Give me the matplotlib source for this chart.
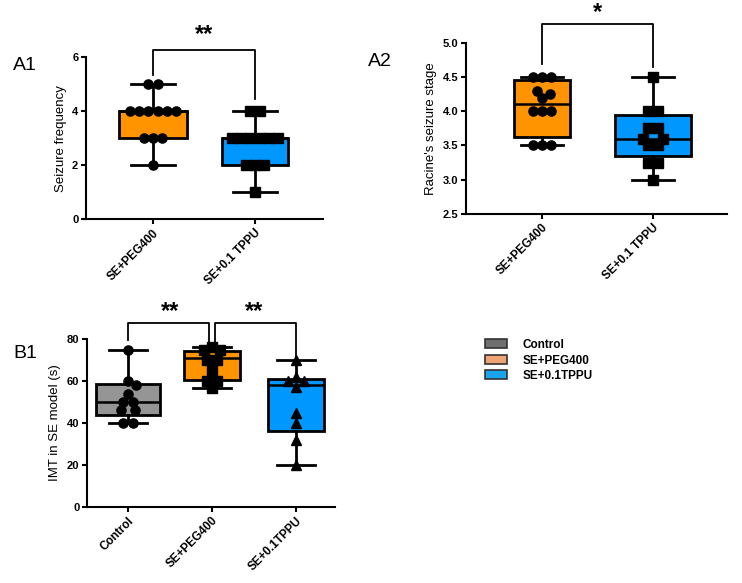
import matplotlib
matplotlib.use('Agg')
import matplotlib.pyplot as plt
from matplotlib.patches import Patch
import numpy as np

plt.rcParams['font.family'] = ['Liberation Sans', 'DejaVu Sans']

# ---- A1: seizure frequency ----
a1_groups = ['SE+PEG400', 'SE+0.1 TPPU']
a1_peg = [5, 5, 4, 4, 4, 4, 4, 4, 3, 3, 3, 2]
a1_tppu = [4, 4, 3, 3, 3, 3, 3, 3, 2, 2, 2, 1]
a1_lo = [2, 1]
a1_q1 = [3, 2]
a1_med = [4, 3]
a1_q3 = [4, 3]
a1_hi = [5, 4]

# ---- A2: Racine's seizure stage ----
a2_groups = ['SE+PEG400', 'SE+0.1 TPPU']
a2_peg = [4.5, 4.5, 4.5, 4.2, 4.25, 4.3, 4.0, 4.0, 4.0, 3.5, 3.5, 3.5]
a2_tppu = [4.5, 4.0, 4.0, 3.75, 3.75, 3.5, 3.5, 3.6, 3.6, 3.25, 3.25, 3.0]
a2_lo = [3.5, 3.0]
a2_q1 = [3.62, 3.34]
a2_med = [4.1, 3.6]
a2_q3 = [4.45, 3.94]
a2_hi = [4.5, 4.5]

# ---- B1: IMT in SE model ----
b1_groups = ['Control', 'SE+PEG400', 'SE+0.1TPPU']
b1_ctrl = [75, 60, 58, 54, 50, 50, 46, 46, 40, 40]
b1_peg = [76, 75, 75, 70, 70, 65, 56.5, 60, 60]
b1_tppu = [70, 62, 60, 60, 57, 45, 40, 32, 20]
b1_lo = [40, 56.5, 20]
b1_q1 = [44, 60.5, 36]
b1_med = [50, 71, 58]
b1_q3 = [58.5, 74.5, 61]
b1_hi = [75, 76, 70]

legend_labels = ['Control', 'SE+PEG400', 'SE+0.1TPPU']

ORANGE = '#FF9400'
BLUE = '#0098FF'
GRAY = '#959595'

W, H = 742, 583
fig = plt.figure(figsize=(W / 100, H / 100), dpi=100)


def add_ax(x0, x1, ytop, ybot):
    return fig.add_axes([x0 / W, 1 - ybot / H, (x1 - x0) / W, (ybot - ytop) / H])


def swarm(ax, pos, vals, d=9.3):
    # simple centred-row beeswarm, computed in pixel space
    t = ax.transData
    sx = t.transform((1, 0))[0] - t.transform((0, 0))[0]
    rows = {}
    for i, v in enumerate(vals):
        rows.setdefault(v, []).append(i)
    placed = []
    xs = np.zeros(len(vals))
    for v, idxs in rows.items():
        yp = t.transform((0, v))[1]
        k = len(idxs)
        base = np.array([(i - (k - 1) / 2) * d for i in range(k)])
        done = False
        for s in np.arange(0, 20 * d, 0.25):
            for cand in (base + np.sign(base) * s, base + s, base - s):
                ok = all((cx - px) ** 2 + (yp - py) ** 2 >= (0.93 * d) ** 2
                         for cx in cand for px, py in placed)
                if ok:
                    for j, cx in zip(idxs, cand):
                        xs[j] = cx
                        placed.append((cx, yp))
                    done = True
                    break
            if done:
                break
    return pos + xs / sx


def style(ax, ylabel, groups):
    for sp in ['top', 'right']:
        ax.spines[sp].set_visible(False)
    for sp in ['left', 'bottom']:
        ax.spines[sp].set_linewidth(1.5)
    ax.tick_params(width=1.5, length=3.5, pad=2, labelsize=8)
    ax.set_xticks(np.arange(1, len(groups) + 1))
    ax.set_xticklabels(groups, rotation=45, ha='right', rotation_mode='anchor',
                       fontweight='bold', fontsize=8.5)
    for lab in ax.get_yticklabels():
        lab.set_fontweight('bold')
    ax.set_ylabel(ylabel, fontsize=9.5, labelpad=4)


def boxes(ax, lo, q1, med, q3, hi, colors, widths, capw):
    stats = [dict(whislo=a, q1=b, med=c, q3=d, whishi=e, fliers=[])
             for a, b, c, d, e in zip(lo, q1, med, q3, hi)]
    pos = np.arange(1, len(stats) + 1)
    bp = ax.bxp(stats, positions=pos, widths=widths, capwidths=capw,
                patch_artist=True, showfliers=False, manage_ticks=False,
                boxprops=dict(linewidth=2, edgecolor='black'),
                medianprops=dict(color='black', linewidth=1.8),
                whiskerprops=dict(color='black', linewidth=2),
                capprops=dict(color='black', linewidth=2))
    for p, c in zip(bp['boxes'], colors):
        p.set_facecolor(c)


def points(ax, pos, vals, marker):
    xs = swarm(ax, pos, vals)
    ax.plot(xs, vals, linestyle='none', marker=marker, ms=6.6,
            color='black', zorder=4, clip_on=False)


def bracket(ax, x1, x2, y, y1, y2):
    ax.plot([x1, x1, x2, x2], [y1, y, y, y2], color='black', lw=1.3,
            clip_on=False)


def stars(ax, x, y, s):
    ax.text(x, y, s, ha='center', va='bottom', fontsize=17, fontweight='bold')


# ---------- A1 ----------
ax1 = add_ax(86, 323, 57.3, 219.3)
ax1.set_xlim(0.343, 2.667)
ax1.set_ylim(0, 6)
ax1.set_yticks([0, 2, 4, 6])
boxes(ax1, a1_lo, a1_q1, a1_med, a1_q3, a1_hi, [ORANGE, BLUE], [0.67, 0.65], [0.43, 0.43])
style(ax1, 'Seizure frequency', a1_groups)
points(ax1, 1, a1_peg, 'o')
points(ax1, 2, a1_tppu, 's')
bracket(ax1, 1, 2, 6.27, 5.34, 4.45)
stars(ax1, 1.5, 6.42, '**')

# ---------- A2 ----------
ax2 = add_ax(466, 727, 42.7, 214)
ax2.set_xlim(0.315, 2.667)
ax2.set_ylim(2.5, 5.0)
ax2.set_yticks([2.5, 3.0, 3.5, 4.0, 4.5, 5.0])
ax2.set_yticklabels(['2.5', '3.0', '3.5', '4.0', '4.5', '5.0'])
boxes(ax2, a2_lo, a2_q1, a2_med, a2_q3, a2_hi, [ORANGE, BLUE], [0.5, 0.68], [0.38, 0.37])
style(ax2, "Racine's seizure stage", a2_groups)
points(ax2, 1, a2_peg, 'o')
points(ax2, 2, a2_tppu, 's')
bracket(ax2, 1, 2, 5.27, 4.69, 4.65)
stars(ax2, 1.5, 5.27, '*')

# ---------- B1 ----------
ax3 = add_ax(87, 335, 339, 507)
ax3.set_xlim(0.512, 3.464)
ax3.set_ylim(0, 80)
ax3.set_yticks([0, 20, 40, 60, 80])
boxes(ax3, b1_lo, b1_q1, b1_med, b1_q3, b1_hi, [GRAY, ORANGE, BLUE],
      [0.77, 0.67, 0.67], [0.46, 0.46, 0.46])
style(ax3, 'IMT in SE model (s)', b1_groups)
points(ax3, 1, b1_ctrl, 'o')
points(ax3, 2, b1_peg, 's')
points(ax3, 3, b1_tppu, '^')
bracket(ax3, 1, 1.96, 87.6, 79.5, 78)
bracket(ax3, 2.04, 3, 87.6, 78, 71)
stars(ax3, 1.5, 87.6, '**')
stars(ax3, 2.5, 87.6, '**')

# panel labels
fig.text(13 / W, 1 - 66 / H, 'A1', fontsize=14, va='center')
fig.text(368 / W, 1 - 62 / H, 'A2', fontsize=14, va='center')
fig.text(13 / W, 1 - 353 / H, 'B1', fontsize=14, va='center')

# legend
handles = [Patch(facecolor=c, edgecolor='#333333', linewidth=1.2)
           for c in ['#6E6E6E', '#F0A374', '#19A4EC']]
leg = fig.legend(handles, legend_labels, loc='upper left',
                 bbox_to_anchor=(485 / W, 1 - 339 / H), frameon=False,
                 borderpad=0, borderaxespad=0, handlelength=1.9,
                 handleheight=0.8, handletextpad=1.3, labelspacing=0.3,
                 prop=dict(size=8.5, weight='bold'))

fig.savefig('out.png', dpi=100)
